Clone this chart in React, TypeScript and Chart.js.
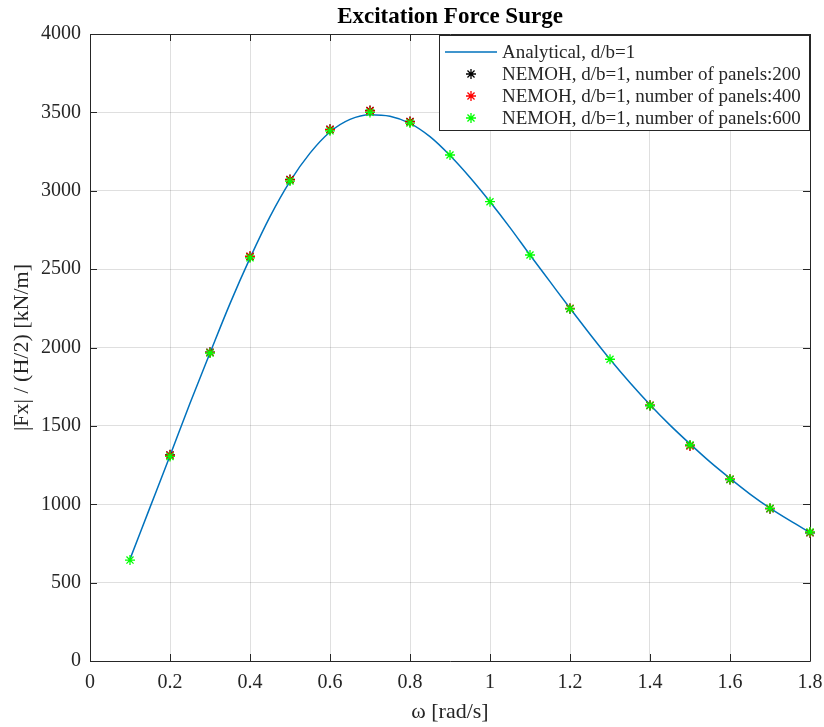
import React, { useEffect, useRef } from "react";
import { Chart, registerables } from "chart.js";

Chart.register(...registerables);

// ---------- data ----------
const analyticalOmega = [
  0.1, 0.15, 0.2, 0.25, 0.3, 0.35, 0.4, 0.45, 0.5, 0.55, 0.6, 0.65, 0.7, 0.75, 0.8, 0.85, 0.9,
  0.95, 1.0, 1.05, 1.1, 1.15, 1.2, 1.25, 1.3, 1.35, 1.4, 1.45, 1.5, 1.55, 1.6, 1.65, 1.7, 1.75, 1.8,
];
const analyticalForce = [
  650, 980, 1310, 1645, 1965, 2280, 2570, 2835, 3060, 3240, 3375, 3455, 3485, 3475, 3430, 3345, 3225,
  3085, 2930, 2765, 2590, 2420, 2250, 2085, 1925, 1775, 1635, 1505, 1385, 1270, 1165, 1065, 975, 895, 820,
];

const omega200 = [0.2, 0.3, 0.4, 0.5, 0.6, 0.7, 0.8, 1.2, 1.4, 1.5, 1.6, 1.7, 1.8];
const force200 = [1315, 1970, 2580, 3072, 3392, 3512, 3442, 2248, 1630, 1375, 1158, 972, 818];

const omega400 = [0.2, 0.3, 0.4, 0.5, 0.6, 0.7, 0.8, 1.2, 1.4, 1.5, 1.6, 1.7, 1.8];
const force400 = [1312, 1968, 2582, 3070, 3390, 3510, 3440, 2250, 1632, 1372, 1160, 973, 820];

const omega600 = [0.1, 0.2, 0.3, 0.4, 0.5, 0.6, 0.7, 0.8, 0.9, 1.0, 1.1, 1.2, 1.3, 1.4, 1.5, 1.6, 1.7, 1.8];
const force600 = [644, 1305, 1965, 2572, 3062, 3382, 3500, 3432, 3228, 2930, 2590, 2247, 1925, 1630, 1378, 1159, 974, 823];

const xTicks = [0, 0.2, 0.4, 0.6, 0.8, 1.0, 1.2, 1.4, 1.6, 1.8];
const xTickLabels = ["0", "0.2", "0.4", "0.6", "0.8", "1", "1.2", "1.4", "1.6", "1.8"];
const yTicks = [0, 500, 1000, 1500, 2000, 2500, 3000, 3500, 4000];
const yTickLabels = ["0", "500", "1000", "1500", "2000", "2500", "3000", "3500", "4000"];

const seriesLabels = [
  "Analytical, d/b=1",
  "NEMOH, d/b=1, number of panels:200",
  "NEMOH, d/b=1, number of panels:400",
  "NEMOH, d/b=1, number of panels:600",
];

// ---------- styles ----------
const FONT = "'Liberation Serif', 'Times New Roman', serif";
const AXIS_COLOR = "#262626";
const GRID_COLOR = "rgba(38,38,38,0.15)";
const LINE_COLOR = "#0072BD";
const MARKER_COLORS = ["#000000", "#FF0000", "#00FF00"];
const MARKER_WIDTH = 1.3;

function drawStar(ctx: CanvasRenderingContext2D, x: number, y: number, r: number, color: string) {
  ctx.save();
  ctx.strokeStyle = color;
  ctx.lineWidth = MARKER_WIDTH;
  ctx.beginPath();
  ctx.moveTo(x - r, y);
  ctx.lineTo(x + r, y);
  ctx.moveTo(x, y - r);
  ctx.lineTo(x, y + r);
  const d = r * Math.SQRT1_2;
  ctx.moveTo(x - d, y - d);
  ctx.lineTo(x + d, y + d);
  ctx.moveTo(x - d, y + d);
  ctx.lineTo(x + d, y - d);
  ctx.stroke();
  ctx.restore();
}

const framePlugin = {
  id: "matlabFrame",
  beforeDatasetsDraw(chart: any) {
    const { ctx, chartArea } = chart;
    const { left, right, top, bottom } = chartArea;
    const xs = chart.scales.x;
    const ys = chart.scales.y;
    const tl = 7;
    ctx.save();
    ctx.strokeStyle = AXIS_COLOR;
    ctx.lineWidth = 1;
    ctx.beginPath();
    ctx.rect(Math.round(left) + 0.5, Math.round(top) + 0.5, Math.round(right - left), Math.round(bottom - top));
    for (const v of xTicks) {
      const px = Math.round(xs.getPixelForValue(v)) + 0.5;
      ctx.moveTo(px, bottom);
      ctx.lineTo(px, bottom - tl);
      ctx.moveTo(px, top);
      ctx.lineTo(px, top + tl);
    }
    for (const v of yTicks) {
      const py = Math.round(ys.getPixelForValue(v)) + 0.5;
      ctx.moveTo(left, py);
      ctx.lineTo(left + tl, py);
      ctx.moveTo(right, py);
      ctx.lineTo(right - tl, py);
    }
    ctx.stroke();
    ctx.restore();
  },
};

const legendPlugin = {
  id: "matlabLegend",
  afterDraw(chart: any) {
    const { ctx, chartArea } = chart;
    ctx.save();
    ctx.font = `19px ${FONT}`;
    let maxW = 0;
    for (const l of seriesLabels) maxW = Math.max(maxW, ctx.measureText(l).width);
    const rowH = 22;
    const padL = 6;
    const sampleW = 52;
    const gap = 5;
    const w = padL + sampleW + gap + maxW + 8;
    const h = rowH * seriesLabels.length + 7;
    const right = Math.round(chartArea.right) - 1;
    const top = Math.round(chartArea.top) + 1;
    const left = Math.round(right - w);
    ctx.fillStyle = "#ffffff";
    ctx.fillRect(left, top, right - left, h);
    ctx.strokeStyle = AXIS_COLOR;
    ctx.lineWidth = 1;
    ctx.strokeRect(left + 0.5, top + 0.5, right - left, h);
    ctx.textBaseline = "middle";
    ctx.textAlign = "left";
    seriesLabels.forEach((label, i) => {
      const cy = top + 17 + i * rowH;
      const sx = left + padL;
      if (i === 0) {
        ctx.strokeStyle = LINE_COLOR;
        ctx.lineWidth = 1.5;
        ctx.beginPath();
        ctx.moveTo(sx, cy);
        ctx.lineTo(sx + sampleW, cy);
        ctx.stroke();
      } else {
        drawStar(ctx, sx + sampleW / 2, cy, 5, MARKER_COLORS[i - 1]);
      }
      ctx.fillStyle = AXIS_COLOR;
      ctx.fillText(label, sx + sampleW + gap, cy + 1);
    });
    ctx.restore();
  },
};

export default function App() {
  const canvasRef = useRef<HTMLCanvasElement | null>(null);

  useEffect(() => {
    document.body.style.margin = "0";
    const canvas = canvasRef.current;
    if (!canvas) return;

    const toPts = (xs: number[], ys: number[]) => xs.map((x, i) => ({ x, y: ys[i] }));

    const markerDataset = (label: string, xs: number[], ys: number[], color: string, order: number) => ({
      label,
      data: toPts(xs, ys),
      showLine: false,
      pointStyle: "star" as const,
      pointRadius: 5,
      pointHoverRadius: 5,
      pointBorderWidth: MARKER_WIDTH,
      pointBorderColor: color,
      pointBackgroundColor: color,
      borderColor: color,
      backgroundColor: color,
      clip: false as any,
      order,
    });

    const chart = new Chart(canvas, {
      type: "scatter",
      data: {
        datasets: [
          {
            label: seriesLabels[0],
            data: toPts(analyticalOmega, analyticalForce),
            showLine: true,
            borderColor: LINE_COLOR,
            backgroundColor: LINE_COLOR,
            borderWidth: 1.5,
            pointRadius: 0,
            pointHoverRadius: 0,
            cubicInterpolationMode: "monotone",
            order: 3,
          } as any,
          markerDataset(seriesLabels[1], omega200, force200, MARKER_COLORS[0], 2),
          markerDataset(seriesLabels[2], omega400, force400, MARKER_COLORS[1], 1),
          markerDataset(seriesLabels[3], omega600, force600, MARKER_COLORS[2], 0),
        ],
      },
      options: {
        responsive: false,
        animation: false,
        events: [],
        layout: { padding: { left: 0, right: 14, top: 0, bottom: 0 } },
        plugins: {
          legend: { display: false },
          tooltip: { enabled: false },
          title: {
            display: true,
            text: "Excitation Force Surge",
            fullSize: false,
            color: "#000000",
            font: { family: FONT, size: 23, weight: "bold", lineHeight: 1.2 },
            padding: { top: 3.7, bottom: 2.7 },
          },
        },
        scales: {
          x: {
            type: "linear",
            min: 0,
            max: 1.8,
            afterBuildTicks: (s: any) => {
              s.ticks = xTicks.map((v) => ({ value: v }));
            },
            afterFit: (s: any) => {
              s.height = 66;
              s.paddingLeft = 0;
              s.paddingRight = 0;
            },
            ticks: {
              autoSkip: false,
              maxRotation: 0,
              color: AXIS_COLOR,
              padding: 10,
              font: { family: FONT, size: 20 },
              callback: (_v: any, i: number) => xTickLabels[i],
            },
            grid: { color: GRID_COLOR, drawTicks: false, lineWidth: 1 },
            border: { display: false },
            title: {
              display: true,
              text: "ω [rad/s]",
              color: AXIS_COLOR,
              font: { family: FONT, size: 22, lineHeight: 1.2 },
              padding: { top: 0, bottom: 2 },
            },
          },
          y: {
            type: "linear",
            min: 0,
            max: 4000,
            afterBuildTicks: (s: any) => {
              s.ticks = yTicks.map((v) => ({ value: v }));
            },
            afterFit: (s: any) => {
              s.width = 90;
              s.paddingTop = 0;
              s.paddingBottom = 0;
            },
            ticks: {
              autoSkip: false,
              color: AXIS_COLOR,
              padding: 9,
              font: { family: FONT, size: 20 },
              callback: (_v: any, i: number) => yTickLabels[i],
            },
            grid: { color: GRID_COLOR, drawTicks: false, lineWidth: 1 },
            border: { display: false },
            title: {
              display: true,
              text: "|Fx| / (H/2) [kN/m]",
              color: AXIS_COLOR,
              font: { family: FONT, size: 22, lineHeight: 1.2 },
              padding: { top: 9.3, bottom: 0 },
            },
          },
        },
      },
      plugins: [framePlugin, legendPlugin],
    });

    return () => chart.destroy();
  }, []);

  return (
    <div style={{ position: "absolute", left: 0, top: 0, width: 824, height: 727, background: "#ffffff" }}>
      <canvas ref={canvasRef} width={824} height={727} style={{ display: "block" }} />
    </div>
  );
}
